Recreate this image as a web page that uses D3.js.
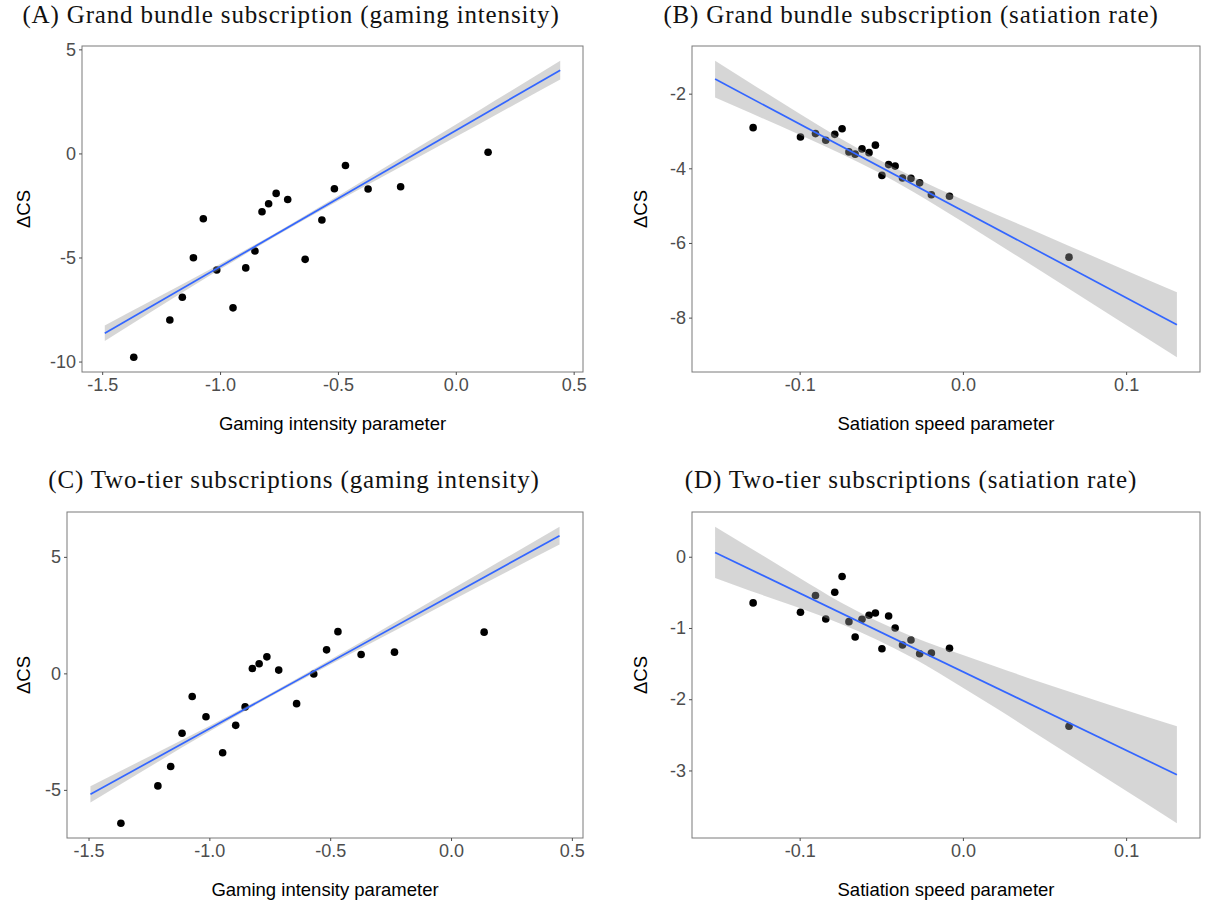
<!DOCTYPE html>
<html>
<head>
<meta charset="utf-8">
<script src="https://cdn.jsdelivr.net/npm/d3@7"></script>
<style>
  body { margin: 0; background: #fff; }
  .tick text { fill: #4d4d4d; font-family: "Liberation Sans", Arial, sans-serif; font-size: 18px; }
  .tick line { stroke: #4d4d4d; }
  .axis-title { font-family: "Liberation Sans", Arial, sans-serif; font-size: 18.5px; fill: #000; }
  .panel-title { font-family: "Liberation Serif", "Times New Roman", serif; font-size: 25px; letter-spacing: 0.85px; fill: #111; }
</style>
</head>
<body>
<svg id="chart"></svg>
<script>
// x values (same 20 scenarios in every panel)
const gamingIntensity = [-1.366, -1.213, -1.160, -1.113, -1.071, -1.014, -0.945, -0.891, -0.852, -0.822,
                         -0.794, -0.762, -0.713, -0.639, -0.568, -0.515, -0.468, -0.372, -0.234, 0.137];
const satiationSpeed = [-0.1285, -0.0995, -0.0903, -0.0840, -0.0785, -0.0740, -0.0698, -0.0660, -0.0618, -0.0575,
                        -0.0536, -0.0496, -0.0455, -0.0415, -0.0370, -0.0318, -0.0265, -0.0193, -0.0082, 0.0650];

// delta CS values
const dcsBundleGaming = [-9.79, -8.00, -6.91, -5.01, -3.14, -5.60, -7.42, -5.50, -4.69, -2.80,
                         -2.42, -1.92, -2.21, -5.09, -3.20, -1.70, -0.58, -1.71, -1.60, 0.06];
const dcsBundleSatiation = [-2.91, -3.16, -3.07, -3.25, -3.09, -2.94, -3.56, -3.62, -3.48, -3.58,
                            -3.38, -4.19, -3.90, -3.94, -4.26, -4.27, -4.39, -4.71, -4.75, -6.38];
const dcsTierGaming = [-6.43, -4.83, -4.00, -2.57, -0.99, -1.86, -3.41, -2.23, -1.44, 0.21,
                       0.41, 0.71, 0.14, -1.30, -0.03, 1.01, 1.79, 0.81, 0.91, 1.77];
const dcsTierSatiation = [-0.648, -0.779, -0.545, -0.873, -0.498, -0.277, -0.911, -1.127, -0.878, -0.822,
                          -0.789, -1.291, -0.831, -1.000, -1.239, -1.169, -1.362, -1.352, -1.286, -2.380];

// fitted lines (end points) and confidence bands
const fitBundleGaming = {x: [-1.489, 0.443], y: [-8.64, 4.00]};
const bandBundleGaming = {
  x:     [-1.489, -1.3, -1.0, -0.77, -0.5, -0.2, 0.1, 0.443],
  lower: [-9.01, -7.67, -5.57, -4.02, -2.29, -0.44, 1.42, 3.55],
  upper: [-8.27, -7.13, -5.31, -3.86, -2.05, 0.02, 2.08, 4.45]
};
const fitBundleSatiation = {x: [-0.1518, 0.1311], y: [-1.61, -8.19]};
const bandBundleSatiation = {
  x:     [-0.1518, -0.13, -0.1, -0.075, -0.053, -0.03, 0.0, 0.02, 0.05, 0.09, 0.1311],
  lower: [-2.10, -2.52, -3.10, -3.60, -4.08, -4.64, -5.44, -5.99, -6.81, -7.92, -9.06],
  upper: [-1.12, -1.72, -2.54, -3.20, -3.74, -4.24, -4.84, -5.23, -5.79, -6.55, -7.32]
};
const fitTierGaming = {x: [-1.492, 0.449], y: [-5.19, 5.91]};
const bandTierGaming = {
  x:     [-1.492, -1.3, -1.0, -0.77, -0.5, -0.2, 0.1, 0.449],
  lower: [-5.54, -4.34, -2.50, -1.13, 0.38, 2.01, 3.65, 5.53],
  upper: [-4.84, -3.84, -2.26, -0.99, 0.58, 2.39, 4.19, 6.29]
};
const fitTierSatiation = {x: [-0.1518, 0.1311], y: [0.061, -3.06]};
const bandTierSatiation = {
  x:     [-0.1518, -0.13, -0.1, -0.075, -0.053, -0.03, 0.0, 0.02, 0.05, 0.09, 0.1311],
  lower: [-0.30, -0.48, -0.72, -0.94, -1.16, -1.43, -1.84, -2.12, -2.56, -3.14, -3.74],
  upper: [0.42, 0.12, -0.30, -0.64, -0.90, -1.13, -1.38, -1.54, -1.78, -2.08, -2.38]
};

// tick values
const gamingTicks = [-1.5, -1.0, -0.5, 0.0, 0.5];
const satiationTicks = [-0.1, 0.0, 0.1];
const bundleGamingYTicks = [5, 0, -5, -10];
const bundleSatiationYTicks = [-2, -4, -6, -8];
const tierGamingYTicks = [5, 0, -5];
const tierSatiationYTicks = [0, -1, -2, -3];

const hyphen = f => d => d3.format(f)(d).replace('\u2212', '-');

class ScatterFitPanel {
  constructor(_config, _data) {
    this.config = {
      parent: _config.parent,
      box: _config.box,
      title: _config.title,
      titleX: _config.titleX,
      titleY: _config.titleY,
      xLabel: _config.xLabel,
      yLabelX: _config.yLabelX,
      xTicks: _config.xTicks,
      yTicks: _config.yTicks,
      xFormat: _config.xFormat
    };
    this.data = _data;
    this.initVis();
  }

  initVis() {
    let vis = this;
    let b = vis.config.box;
    vis.width = b.right - b.left;
    vis.height = b.bottom - b.top;

    // ggplot style 5% expansion around everything drawn
    let xs = vis.data.x.concat(vis.data.fit.x, vis.data.band.x);
    let ys = vis.data.y.concat(vis.data.fit.y, vis.data.band.lower, vis.data.band.upper);
    let xe = d3.extent(xs), ye = d3.extent(ys);
    let xp = (xe[1] - xe[0]) * 0.05, yp = (ye[1] - ye[0]) * 0.05;

    vis.xScale = d3.scaleLinear().domain([xe[0] - xp, xe[1] + xp]).range([0, vis.width]);
    vis.yScale = d3.scaleLinear().domain([ye[0] - yp, ye[1] + yp]).range([vis.height, 0]);

    vis.chart = vis.config.parent.append('g')
      .attr('transform', `translate(${b.left},${b.top})`);

    let points = vis.data.x.map((d, i) => ({x: d, y: vis.data.y[i]}));
    vis.chart.selectAll('.dot')
      .data(points)
      .join('circle')
      .attr('class', 'dot')
      .attr('cx', d => vis.xScale(d.x))
      .attr('cy', d => vis.yScale(d.y))
      .attr('r', 3.8)
      .attr('fill', '#000');

    let band = vis.data.band.x.map((d, i) => ({x: d, lo: vis.data.band.lower[i], hi: vis.data.band.upper[i]}));
    let area = d3.area()
      .x(d => vis.xScale(d.x))
      .y0(d => vis.yScale(d.lo))
      .y1(d => vis.yScale(d.hi))
      .curve(d3.curveMonotoneX);
    vis.chart.append('path')
      .datum(band)
      .attr('d', area)
      .attr('fill', '#999999')
      .attr('fill-opacity', 0.4);

    let fit = vis.data.fit.x.map((d, i) => ({x: d, y: vis.data.fit.y[i]}));
    vis.chart.append('path')
      .datum(fit)
      .attr('d', d3.line().x(d => vis.xScale(d.x)).y(d => vis.yScale(d.y)))
      .attr('fill', 'none')
      .attr('stroke', '#3366FF')
      .attr('stroke-width', 1.7);

    // panel border
    vis.chart.append('rect')
      .attr('width', vis.width)
      .attr('height', vis.height)
      .attr('fill', 'none')
      .attr('stroke', '#7a7a7a')
      .attr('stroke-width', 1);

    vis.xAxis = d3.axisBottom(vis.xScale)
      .tickValues(vis.config.xTicks)
      .tickFormat(hyphen(vis.config.xFormat))
      .tickSize(3)
      .tickSizeOuter(0)
      .tickPadding(3);
    vis.yAxis = d3.axisLeft(vis.yScale)
      .tickValues(vis.config.yTicks)
      .tickFormat(hyphen('d'))
      .tickSize(3)
      .tickSizeOuter(0)
      .tickPadding(3);

    vis.xAxisG = vis.chart.append('g')
      .attr('class', 'axis x-axis')
      .attr('transform', `translate(0,${vis.height})`)
      .call(vis.xAxis);
    vis.yAxisG = vis.chart.append('g')
      .attr('class', 'axis y-axis')
      .call(vis.yAxis);
    vis.chart.selectAll('.axis .domain').remove();
    vis.chart.selectAll('.axis').attr('font-size', null).attr('font-family', null);

    // axis titles
    vis.chart.append('text')
      .attr('class', 'axis-title')
      .attr('text-anchor', 'middle')
      .attr('x', vis.width / 2)
      .attr('y', vis.height + 58)
      .text(vis.config.xLabel);

    vis.config.parent.append('text')
      .attr('class', 'axis-title')
      .attr('text-anchor', 'middle')
      .attr('transform', `translate(${vis.config.yLabelX},${b.top + vis.height / 2}) rotate(-90)`)
      .text('\u0394CS');

    // panel title
    vis.config.parent.append('text')
      .attr('class', 'panel-title')
      .attr('text-anchor', 'middle')
      .attr('x', vis.config.titleX)
      .attr('y', vis.config.titleY)
      .text(vis.config.title);
  }
}

const svg = d3.select('#chart')
  .attr('width', 1205)
  .attr('height', 906);

new ScatterFitPanel({
  parent: svg, box: {left: 82, right: 583, top: 46, bottom: 372},
  title: '(A) Grand bundle subscription (gaming intensity)', titleX: 291, titleY: 23,
  xLabel: 'Gaming intensity parameter', yLabelX: 30,
  xTicks: gamingTicks, yTicks: bundleGamingYTicks, xFormat: '.1f'
}, {x: gamingIntensity, y: dcsBundleGaming, fit: fitBundleGaming, band: bandBundleGaming});

new ScatterFitPanel({
  parent: svg, box: {left: 692, right: 1200, top: 46, bottom: 372},
  title: '(B) Grand bundle subscription (satiation rate)', titleX: 911, titleY: 23,
  xLabel: 'Satiation speed parameter', yLabelX: 647,
  xTicks: satiationTicks, yTicks: bundleSatiationYTicks, xFormat: '.1f'
}, {x: satiationSpeed, y: dcsBundleSatiation, fit: fitBundleSatiation, band: bandBundleSatiation});

new ScatterFitPanel({
  parent: svg, box: {left: 67, right: 583, top: 512, bottom: 838},
  title: '(C) Two-tier subscriptions (gaming intensity)', titleX: 294, titleY: 488,
  xLabel: 'Gaming intensity parameter', yLabelX: 30,
  xTicks: gamingTicks, yTicks: tierGamingYTicks, xFormat: '.1f'
}, {x: gamingIntensity, y: dcsTierGaming, fit: fitTierGaming, band: bandTierGaming});

new ScatterFitPanel({
  parent: svg, box: {left: 692, right: 1200, top: 512, bottom: 838},
  title: '(D) Two-tier subscriptions (satiation rate)', titleX: 911, titleY: 488,
  xLabel: 'Satiation speed parameter', yLabelX: 647,
  xTicks: satiationTicks, yTicks: tierSatiationYTicks, xFormat: '.1f'
}, {x: satiationSpeed, y: dcsTierSatiation, fit: fitTierSatiation, band: bandTierSatiation});
</script>
</body>
</html>
